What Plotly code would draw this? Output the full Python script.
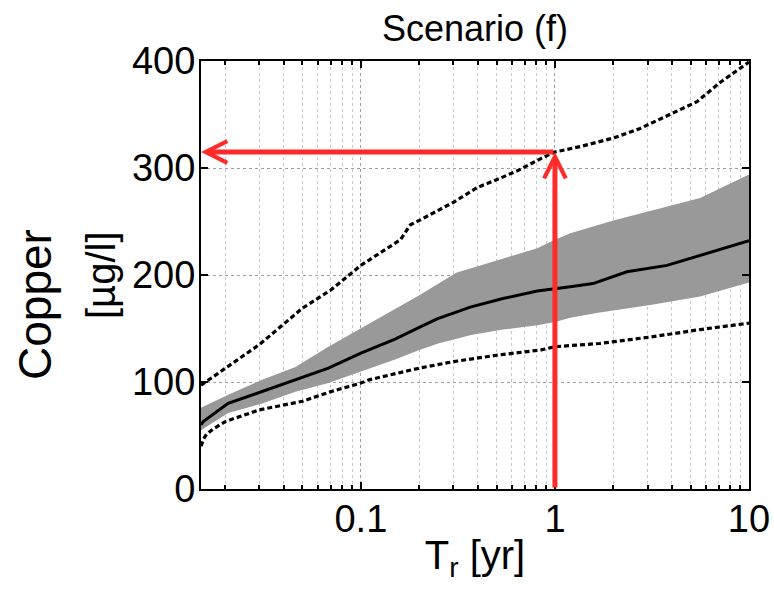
import numpy as np
import plotly.graph_objects as go

# ---------------- data ----------------
median_x = [0.015, 0.0154, 0.0207, 0.031, 0.046, 0.068, 0.1, 0.15, 0.2, 0.247, 0.366, 0.54, 0.81, 1.0, 1.2, 1.57, 2.35, 3.78, 5.6, 10.0]
median_y = [60, 63, 80, 91, 102, 113, 127, 140, 151, 159, 170, 178, 185, 187, 189, 192, 203, 209, 218, 232]

band_up_x = [0.015, 0.0207, 0.031, 0.046, 0.068, 0.1, 0.15, 0.2, 0.31, 0.54, 0.81, 1.0, 1.2, 2.0, 3.0, 5.6, 10.0]
band_up_y = [76, 88, 102, 114, 133, 150, 168, 181, 202, 215, 225, 233, 239, 251, 259, 272, 294]

band_lo_x = [0.015, 0.0207, 0.031, 0.046, 0.068, 0.1, 0.15, 0.2, 0.25, 0.37, 0.54, 0.81, 1.0, 1.2, 1.7, 3.1, 5.6, 10.0]
band_lo_y = [55, 71, 80, 91, 99, 110, 121, 130, 136, 144, 149, 153, 156, 160, 165, 172, 180, 193]

upper_x = [0.015, 0.02, 0.03, 0.05, 0.07, 0.1, 0.11, 0.16, 0.18, 0.2, 0.3, 0.4, 0.5, 0.65, 0.85, 1.0, 1.35, 2.0, 2.75, 3.9, 5.4, 7.1, 10.0]
upper_y = [97, 113, 135, 169, 186, 209, 214, 233, 247, 251, 268, 282, 289, 298, 309, 315, 320, 328, 337, 350, 362, 380, 399]

lower_x = [0.015, 0.0155, 0.016, 0.0173, 0.02, 0.03, 0.05, 0.07, 0.1, 0.11, 0.2, 0.3, 0.5, 0.85, 1.0, 1.7, 3.1, 5.6, 10.0]
lower_y = [40, 47, 51, 56, 63, 74, 82, 91, 99, 102, 113, 119, 125, 130, 133, 136, 142, 149, 155]

x_range = [0.015, 10.0]
y_range = [0, 400]
x_tickvals = [0.1, 1, 10]
x_ticktext = ["0.1", "1", "10"]
x_minor_vals = [0.02, 0.03, 0.04, 0.05, 0.06, 0.07, 0.08, 0.09,
                0.2, 0.3, 0.4, 0.5, 0.6, 0.7, 0.8, 0.9,
                2, 3, 4, 5, 6, 7, 8, 9]
y_tickvals = [0, 100, 200, 300, 400]

# read-off marker (return period 1 yr -> 315 µg/l)
read_x = 1.0
read_y = 315

FONT = "Liberation Sans, Arial, sans-serif"

fig = go.Figure()

# uncertainty band
fig.add_trace(go.Scatter(
    x=band_up_x + band_lo_x[::-1],
    y=band_up_y + band_lo_y[::-1],
    fill="toself", fillcolor="#999999", line=dict(width=0),
    mode="lines", hoverinfo="skip", showlegend=False))

# dashed envelopes
for xs, ys in [(upper_x, upper_y), (lower_x, lower_y)]:
    fig.add_trace(go.Scatter(x=xs, y=ys, mode="lines",
                             line=dict(color="black", width=3.2, dash="5px,3px"),
                             showlegend=False))

# median
fig.add_trace(go.Scatter(x=median_x, y=median_y, mode="lines",
                         line=dict(color="black", width=3), showlegend=False))

red = "#ff2b2b"
lx0 = np.log10(x_range[0])
lx1 = np.log10(read_x)

PW, PH = 774, 599
ML, MT, MR, MB = 201, 61, 25, 110
plot_w = PW - ML - MR
plot_h = PH - MT - MB


def px_to_paper_x(px):
    return (px - ML) / plot_w


def px_to_paper_y(py):
    return (PH - MB - py) / plot_h


annotations = [
    # horizontal arrow to y-axis
    dict(x=lx0, y=read_y, ax=lx1, ay=read_y, xref="x", yref="y", axref="x", ayref="y",
         text="", showarrow=True, arrowhead=5, arrowsize=0.85, arrowwidth=5, arrowcolor=red,
         standoff=0, startstandoff=0),
    # vertical arrow up from x axis
    dict(x=lx1, y=read_y, ax=lx1, ay=y_range[0], xref="x", yref="y", axref="x", ayref="y",
         text="", showarrow=True, arrowhead=5, arrowsize=0.85, arrowwidth=5, arrowcolor=red,
         standoff=0, startstandoff=0),
    # y-axis titles
    dict(text="Copper", x=px_to_paper_x(35), y=px_to_paper_y(305), xref="paper", yref="paper",
         textangle=-90, showarrow=False, font=dict(size=46, family=FONT, color="black"),
         xanchor="center", yanchor="middle"),
    dict(text="[µg/l]", x=px_to_paper_x(101), y=px_to_paper_y(275), xref="paper", yref="paper",
         textangle=-90, showarrow=False, font=dict(size=40, family=FONT, color="black"),
         xanchor="center", yanchor="middle"),
]

fig.update_layout(
    width=PW, height=PH,
    margin=dict(l=ML, r=MR, t=MT, b=MB, autoexpand=False),
    paper_bgcolor="white", plot_bgcolor="white",
    font=dict(family=FONT, color="black", size=38),
    title=dict(text="Scenario (f)", x=0.5, xref="paper", xanchor="center",
               y=1 - 28 / PH, yref="container", yanchor="middle",
               font=dict(size=36, family=FONT, color="black")),
    annotations=annotations,
    xaxis=dict(type="log", range=[np.log10(x_range[0]), np.log10(x_range[1])],
               automargin=False,
               tickmode="array", tickvals=x_tickvals, ticktext=x_ticktext,
               ticks="inside", ticklen=7, tickwidth=1.5, tickcolor="black",
               ticklabelstandoff=-5,
               showline=True, linecolor="black", linewidth=2, mirror="ticks",
               showgrid=True, gridcolor="#a0a0a0", griddash="dot", gridwidth=1,
               minor=dict(tickmode="array", tickvals=x_minor_vals, showgrid=True,
                          gridcolor="#c8c8c8", griddash="dot", gridwidth=1,
                          ticks="inside", ticklen=4, tickcolor="black"),
               tickfont=dict(size=38), zeroline=False,
               title=dict(text="T<sub>r</sub> [yr]", font=dict(size=40), standoff=2)),
    yaxis=dict(range=y_range, tickmode="array", tickvals=y_tickvals,
               automargin=False,
               ticks="inside", ticklen=7, tickwidth=1.5, tickcolor="black",
               ticklabelstandoff=-4,
               showline=True, linecolor="black", linewidth=2, mirror="ticks",
               showgrid=True, gridcolor="#a0a0a0", griddash="dot", gridwidth=1,
               tickfont=dict(size=38), zeroline=False),
)

fig.write_html(
    "out.html",
    config={"displayModeBar": False},
    post_script="document.body.style.margin='0px';document.body.style.overflow='hidden';",
)
